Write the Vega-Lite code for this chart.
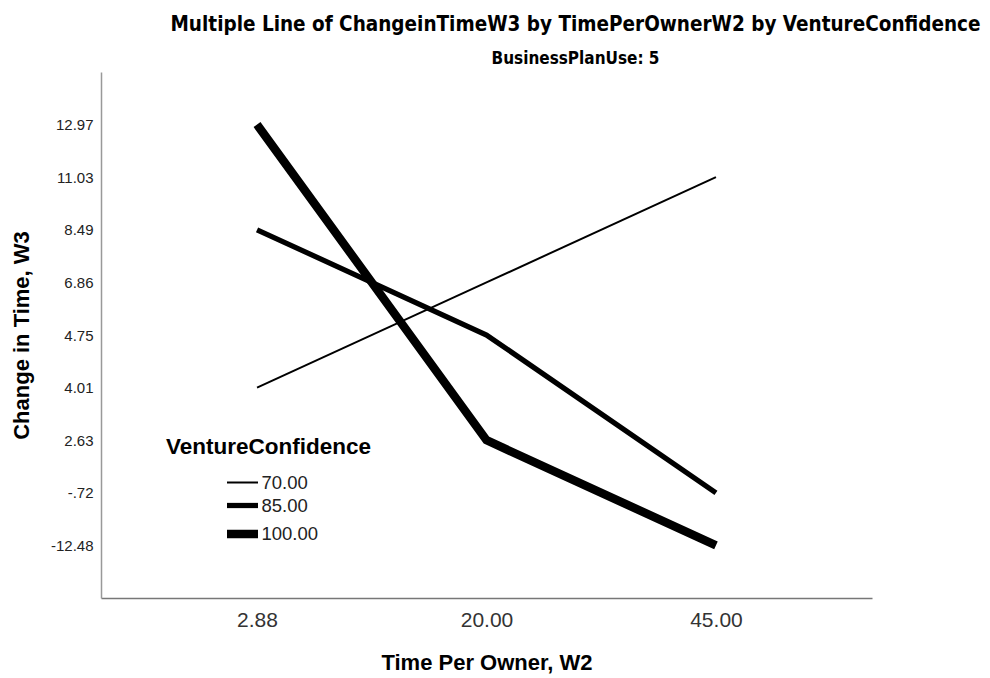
{
  "$schema": "https://vega.github.io/schema/vega-lite/v6.json",
  "width": 771,
  "height": 526,
  "padding": {"left": 101, "top": 72, "right": 118, "bottom": 80},
  "autosize": {"type": "none"},
  "background": "white",
  "config": {
    "view": {"stroke": null},
    "font": "Liberation Sans"
  },
  "title": {
    "text": "Multiple Line of ChangeinTimeW3 by TimePerOwnerW2 by VentureConfidence",
    "subtitle": "BusinessPlanUse: 5",
    "anchor": "middle",
    "dx": 89,
    "font": "DejaVu Sans Condensed",
    "fontSize": 20.5,
    "fontWeight": "bold",
    "color": "#000",
    "subtitleFont": "DejaVu Sans Condensed",
    "subtitleFontSize": 17,
    "subtitleFontWeight": "bold",
    "subtitleColor": "#000",
    "subtitlePadding": 16,
    "offset": 5
  },
  "data": {
    "values": [
      {"time": 2.88, "change": 4.01, "conf": 70},
      {"time": 20, "change": 6.86, "conf": 70},
      {"time": 45, "change": 11.03, "conf": 70},
      {"time": 2.88, "change": 8.49, "conf": 85},
      {"time": 20, "change": 4.75, "conf": 85},
      {"time": 45, "change": -0.72, "conf": 85},
      {"time": 2.88, "change": 12.97, "conf": 100},
      {"time": 20, "change": 2.63, "conf": 100},
      {"time": 45, "change": -12.48, "conf": 100}
    ]
  },
  "mark": {"type": "line", "color": "#000", "strokeCap": "butt", "strokeJoin": "miter"},
  "encoding": {
    "x": {
      "field": "time",
      "type": "ordinal",
      "scale": {"type": "point", "padding": 0.68},
      "axis": {
        "title": "Time Per Owner, W2",
        "labelAngle": 0,
        "labelExpr": "format(datum.value, '.2f')",
        "labelFontSize": 21,
        "labelColor": "#333",
        "labelPadding": 11,
        "ticks": false,
        "domainColor": "#777",
        "domainWidth": 1.5,
        "titleFontSize": 22,
        "titleFontWeight": "bold",
        "titleColor": "#000",
        "titlePadding": 22
      }
    },
    "y": {
      "field": "change",
      "type": "ordinal",
      "sort": "descending",
      "scale": {"type": "point", "padding": 1.04},
      "axis": {
        "title": "Change in Time, W3",
        "labelExpr": "datum.value == -0.72 ? '-.72' : datum.value == -12.48 ? '-12.48' : format(datum.value, '.2f')",
        "labelFontSize": 15,
        "labelColor": "#222",
        "labelPadding": 8,
        "ticks": false,
        "domainColor": "#999",
        "domainWidth": 1.5,
        "titleFontSize": 22,
        "titleFontWeight": "bold",
        "titleColor": "#000",
        "titlePadding": 17
      }
    },
    "strokeWidth": {
      "field": "conf",
      "type": "quantitative",
      "scale": {"domain": [70, 100], "range": [2, 8.5]},
      "legend": {
        "title": "VentureConfidence",
        "orient": "none",
        "legendX": 65,
        "legendY": 364,
        "values": [70, 85, 100],
        "labelExpr": "format(datum.value, '.2f')",
        "titleFontSize": 22.5,
        "titleFontWeight": "bold",
        "titleColor": "#000",
        "titleLimit": 400,
        "titlePadding": 13,
        "labelFontSize": 18.5,
        "labelColor": "#222",
        "symbolOffset": 62,
        "labelOffset": 4.5,
        "symbolType": "M-1.55,0H1.55",
        "symbolSize": 400,
        "symbolStrokeColor": "#000",
        "rowPadding": 0,
        "padding": 0
      }
    },
    "detail": {"field": "conf", "type": "nominal"}
  }
}
